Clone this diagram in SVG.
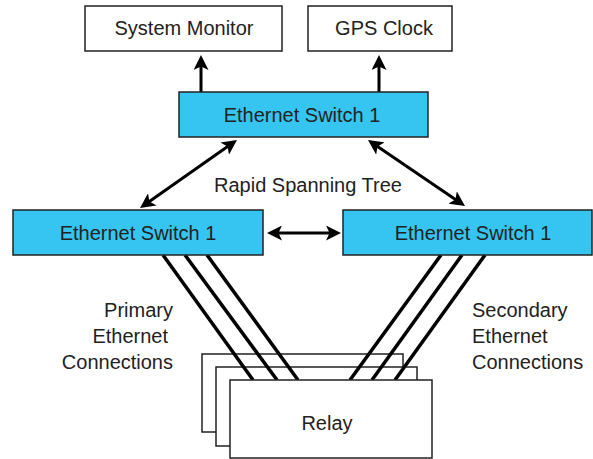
<svg xmlns="http://www.w3.org/2000/svg" width="593" height="459" viewBox="0 0 593 459">
  <style>
    text { font-family: "Liberation Sans", Arial, sans-serif; font-size: 20px; fill: #222; }
    .c { text-anchor: middle; }
    .box { fill: #fff; stroke: #222; stroke-width: 1.5; }
    .sw { fill: #35C5F0; stroke: #222; stroke-width: 1.5; }
    .arr { stroke: #000; stroke-width: 3; fill: none; }
    .cable { stroke: #000; stroke-width: 3.5; fill: none; }
  </style>
  <defs>
    <marker id="ah" viewBox="0 0 15 15" refX="11" refY="7.5" markerWidth="15" markerHeight="15" markerUnits="userSpaceOnUse" orient="auto-start-reverse">
      <path d="M0,0 L15,7.5 L0,15 L3.5,7.5 z" fill="#000"/>
    </marker>
  </defs>

  <g id="system-monitor">
    <rect class="box" x="85" y="6" width="197" height="45"/>
    <text class="c" x="184" y="35">System Monitor</text>
  </g>
  <g id="gps-clock">
    <rect class="box" x="308" y="6" width="144" height="45"/>
    <text class="c" x="384" y="35">GPS Clock</text>
  </g>

  <g id="relay-stack">
    <rect class="box" x="202" y="354" width="201" height="78"/>
    <rect class="box" x="216" y="367" width="201" height="79"/>
  </g>

  <g id="connectors">
    <line class="arr" x1="201" y1="92" x2="201" y2="59" marker-end="url(#ah)"/>
    <line class="arr" x1="379" y1="92" x2="379" y2="59" marker-end="url(#ah)"/>
    <line class="arr" x1="233.7" y1="142.3" x2="143.3" y2="205.7" marker-start="url(#ah)" marker-end="url(#ah)"/>
    <line class="arr" x1="371.3" y1="142.3" x2="461.7" y2="203.7" marker-start="url(#ah)" marker-end="url(#ah)"/>
    <line class="arr" x1="271" y1="233" x2="337" y2="233" marker-start="url(#ah)" marker-end="url(#ah)"/>
    <line class="cable" x1="163" y1="255" x2="253" y2="380"/>
    <line class="cable" x1="185" y1="255" x2="277" y2="380"/>
    <line class="cable" x1="207" y1="255" x2="298" y2="380"/>
    <line class="cable" x1="441" y1="255" x2="350" y2="380"/>
    <line class="cable" x1="462" y1="255" x2="372" y2="380"/>
    <line class="cable" x1="485" y1="255" x2="395" y2="380"/>
  </g>

  <g id="relay">
    <rect class="box" x="230" y="380" width="202" height="78"/>
    <text class="c" x="327" y="430">Relay</text>
  </g>

  <g id="switch-top">
    <rect class="sw" x="179" y="92" width="249" height="45"/>
    <text class="c" x="302" y="122">Ethernet Switch 1</text>
  </g>
  <g id="switch-left">
    <rect class="sw" x="13" y="210" width="250" height="45"/>
    <text class="c" x="138" y="240">Ethernet Switch 1</text>
  </g>
  <g id="switch-right">
    <rect class="sw" x="343" y="210" width="249" height="45"/>
    <text class="c" x="473" y="240">Ethernet Switch 1</text>
  </g>

  <g id="labels">
    <text class="c" x="308" y="192">Rapid Spanning Tree</text>
    <text x="173" y="317" text-anchor="end">Primary</text>
    <text x="168" y="343" text-anchor="end">Ethernet</text>
    <text x="173" y="369" text-anchor="end">Connections</text>
    <text x="472" y="317">Secondary</text>
    <text x="472" y="343">Ethernet</text>
    <text x="472" y="369">Connections</text>
  </g>
</svg>
